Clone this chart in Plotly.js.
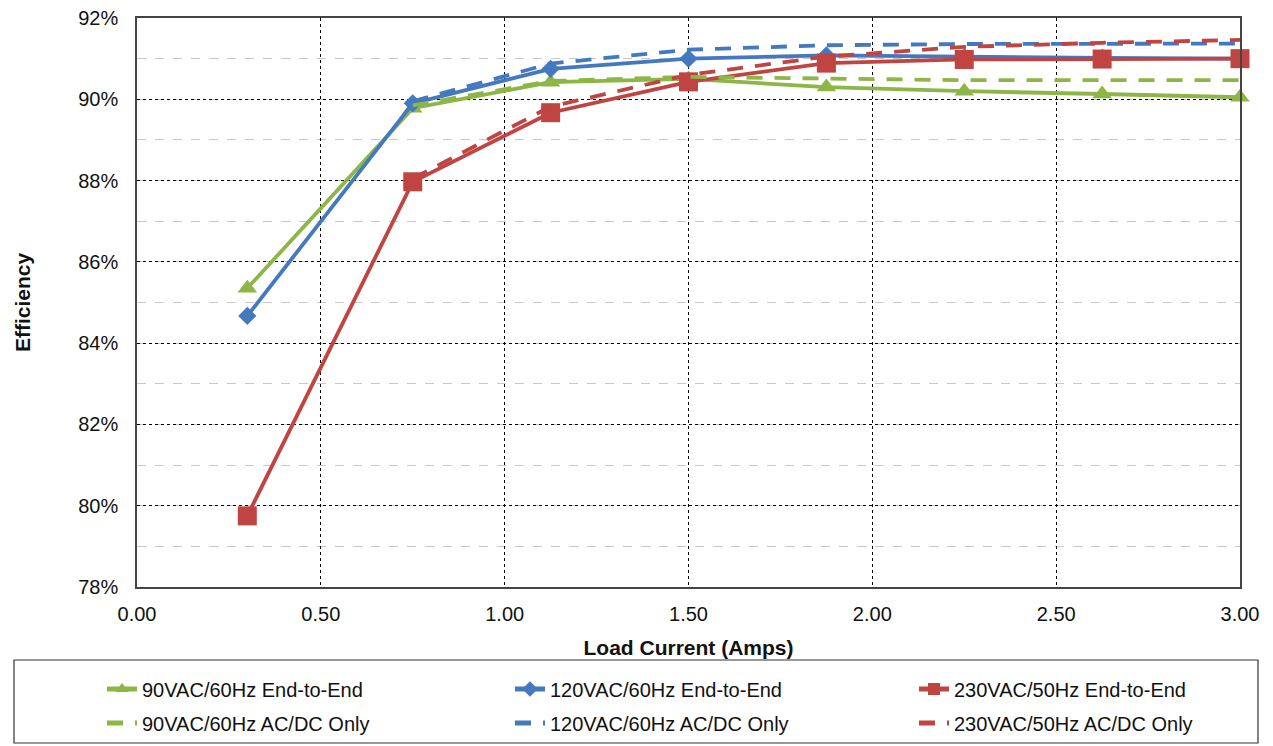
<!DOCTYPE html>
<html>
<head>
<meta charset="utf-8">
<script src="https://cdn.plot.ly/plotly-3.0.1.min.js"></script>
<style>html,body{margin:0;padding:0;background:#fff;}#chart{width:1273px;height:746px;}</style>
</head>
<body>
<div id="chart"></div>
<script>
// Load current (Amps)
const loadCurrent = [0.30, 0.75, 1.125, 1.50, 1.875, 2.25, 2.625, 3.00];
const loadCurrentAcDc = [0.75, 1.125, 1.50, 1.875, 2.25, 2.625, 3.00];

// Efficiency (%) - End-to-End
const eff90E2E  = [85.35, 89.78, 90.42, 90.50, 90.30, 90.20, 90.13, 90.05];
const eff120E2E = [84.67, 89.90, 90.75, 91.00, 91.08, 91.04, 91.02, 91.00];
const eff230E2E = [79.75, 87.97, 89.67, 90.43, 90.89, 90.98, 90.99, 91.00];

// Efficiency (%) - AC/DC Only
const eff90AcDc  = [89.85, 90.45, 90.55, 90.52, 90.47, 90.47, 90.47];
const eff120AcDc = [89.95, 90.88, 91.22, 91.33, 91.36, 91.37, 91.37];
const eff230AcDc = [88.05, 89.82, 90.60, 91.05, 91.29, 91.39, 91.46];

const names = [
  '90VAC/60Hz End-to-End', '120VAC/60Hz End-to-End', '230VAC/50Hz End-to-End',
  '90VAC/60Hz AC/DC Only', '120VAC/60Hz AC/DC Only', '230VAC/50Hz AC/DC Only'
];
const yTicks = [78, 80, 82, 84, 86, 88, 90, 92];
const yTickText = yTicks.map(v => v + '%');
const xTicks = [0, 0.5, 1.0, 1.5, 2.0, 2.5, 3.0];

const GREEN = '#8DB646', BLUE = '#4579BF', RED = '#BF4442';
const FONT = 'Liberation Sans, Arial, sans-serif';

function solid(x, y, name, color, symbol, size, leg) {
  return {x, y, name, type: 'scatter', mode: 'lines+markers', cliponaxis: false,
    line: {color, width: 3.8},
    marker: {symbol, size, color, line: {width: 0}}, legend: leg};
}
function dashed(x, y, name, color, leg) {
  return {x, y, name, type: 'scatter', mode: 'lines', cliponaxis: false,
    line: {color, width: 3.8, dash: '16px,12px'}, legend: leg};
}

const data = [
  solid(loadCurrent, eff90E2E, names[0], GREEN, 'triangle-up', 17, 'legend'),
  solid(loadCurrent, eff120E2E, names[1], BLUE, 'diamond', 14, 'legend2'),
  solid(loadCurrent, eff230E2E, names[2], RED, 'square', 19, 'legend3'),
  dashed(loadCurrentAcDc, eff90AcDc, names[3], GREEN, 'legend4'),
  dashed(loadCurrentAcDc, eff120AcDc, names[4], BLUE, 'legend5'),
  dashed(loadCurrentAcDc, eff230AcDc, names[5], RED, 'legend6')
];

const L = 137, R = 1240, T = 18, B = 587;
const W = R - L, H = B - T;
const px = v => (v - L) / W;
const py = v => (B - v) / H;

function leg(textX, rowY) {
  return {
    orientation: 'v', xanchor: 'left', yanchor: 'middle',
    x: px(textX - 40), y: py(rowY - 1), itemwidth: 30,
    font: {family: FONT, size: 20, color: '#111'},
    bgcolor: 'rgba(0,0,0,0)', borderwidth: 0, itemsizing: 'constant'
  };
}

const layout = {
  width: 1273, height: 746,
  margin: {l: L, r: 1273 - R, t: T, b: 746 - B, autoexpand: false},
  paper_bgcolor: '#fff', plot_bgcolor: '#fff',
  font: {family: FONT, color: '#111'},
  showlegend: true,
  legend: leg(142, 690), legend2: leg(550, 690), legend3: leg(954, 690),
  legend4: leg(142, 724), legend5: leg(550, 724), legend6: leg(954, 724),
  xaxis: {
    range: [0, 3.0], tickvals: xTicks, tickformat: '.2f',
    showgrid: true, gridcolor: '#000', griddash: 'dot', gridwidth: 1,
    showline: true, mirror: true, linecolor: '#444', linewidth: 1.5,
    zeroline: false, ticks: '', ticklabelstandoff: 8,
    tickfont: {family: FONT, size: 20, color: '#111'},
    title: {text: '<b>Load Current (Amps)</b>', font: {family: FONT, size: 21, color: '#111'}, standoff: 17}
  },
  yaxis: {
    range: [78, 92], tickmode: 'array', tickvals: yTicks, ticktext: yTickText,
    showgrid: true, gridcolor: '#000', griddash: 'dot', gridwidth: 1,
    minor: {dtick: 1, showgrid: true, gridcolor: '#c8c8c8', griddash: 'dash', gridwidth: 1},
    showline: true, mirror: true, linecolor: '#444', linewidth: 1.5,
    zeroline: false, ticks: '', ticklabelstandoff: 13,
    tickfont: {family: FONT, size: 20, color: '#111'},
    title: {text: '<b>Efficiency</b>', font: {family: FONT, size: 21, color: '#111'}, standoff: 42}
  },
  shapes: [{
    type: 'rect', xref: 'paper', yref: 'paper',
    x0: px(14), x1: px(1258), y0: py(660), y1: py(743),
    line: {color: '#333', width: 1.2}, fillcolor: 'rgba(0,0,0,0)'
  }]
};

Plotly.newPlot('chart', data, layout, {displayModeBar: false, responsive: false});
</script>
</body>
</html>
